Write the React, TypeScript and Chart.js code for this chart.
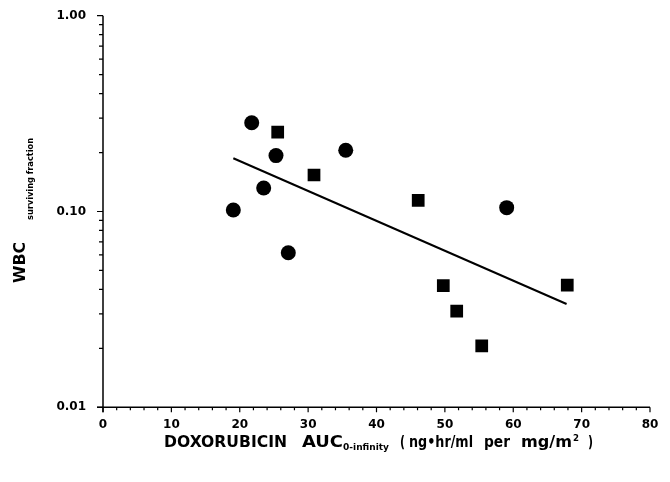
import { useEffect, useRef } from "react";
import { Chart, registerables } from "chart.js";

Chart.register(...registerables);

// Circles (one group of patients)
const circleX = [19.06, 21.75, 23.5, 25.3, 27.1, 35.5, 59.04];
const circleY = [0.1018, 0.284, 0.1318, 0.193, 0.0616, 0.2054, 0.1046];
// Squares (second group)
const squareX = [25.55, 30.86, 46.1, 49.77, 51.73, 55.39, 67.9];
const squareY = [0.254, 0.1536, 0.114, 0.0418, 0.031, 0.0206, 0.0421];
// Regression line end points
const fitX = [19.06, 67.8];
const fitY = [0.187, 0.0337];

const xMajorTicks = [0, 10, 20, 30, 40, 50, 60, 70, 80];
const xMajorLabels = ["0", "10", "20", "30", "40", "50", "60", "70", "80"];
const xMinorStep = 2;
const yMajorTicks = [0.01, 0.1, 1];
const yMajorLabels = ["0.01", "0.10", "1.00"];

const FONT = "'DejaVu Sans', 'Liberation Sans', sans-serif";

function fitText(ctx: CanvasRenderingContext2D, text: string, x: number, y: number, w: number) {
  const m = ctx.measureText(text).width || 1;
  ctx.save();
  ctx.translate(x, y);
  ctx.scale(w / m, 1);
  ctx.fillText(text, 0, 0);
  ctx.restore();
}

const axesPlugin = {
  id: "paperAxes",
  beforeDatasetsDraw(chart: any) {
    const ctx: CanvasRenderingContext2D = chart.ctx;
    const xs = chart.scales.x;
    const ys = chart.scales.y;
    const area = chart.chartArea;
    ctx.save();
    ctx.strokeStyle = "#000";
    ctx.fillStyle = "#000";
    ctx.lineWidth = 1.5;
    // axis lines
    ctx.beginPath();
    ctx.moveTo(area.left, area.top);
    ctx.lineTo(area.left, area.bottom + 5);
    ctx.moveTo(area.left - 6, area.bottom);
    ctx.lineTo(area.right, area.bottom);
    ctx.stroke();

    // x ticks
    ctx.lineWidth = 1.2;
    ctx.beginPath();
    for (let v = 0; v <= 80; v += xMinorStep) {
      const px = xs.getPixelForValue(v);
      const major = xMajorTicks.includes(v);
      ctx.moveTo(px, area.bottom);
      ctx.lineTo(px, area.bottom + (major ? 5 : 3));
    }
    // y ticks
    for (let d = 0; d < yMajorTicks.length; d++) {
      const base = yMajorTicks[d];
      const py = ys.getPixelForValue(base);
      ctx.moveTo(area.left, py);
      ctx.lineTo(area.left - 6, py);
      if (d < yMajorTicks.length - 1) {
        for (let k = 2; k <= 9; k++) {
          const pm = ys.getPixelForValue(base * k);
          ctx.moveTo(area.left, pm);
          ctx.lineTo(area.left - 4, pm);
        }
      }
    }
    ctx.stroke();

    // tick labels
    ctx.font = `bold 12px ${FONT}`;
    ctx.textAlign = "center";
    ctx.textBaseline = "alphabetic";
    xMajorTicks.forEach((v, i) => {
      ctx.fillText(xMajorLabels[i], xs.getPixelForValue(v), 427.5);
    });
    ctx.textAlign = "right";
    ctx.textBaseline = "middle";
    yMajorTicks.forEach((v, i) => {
      ctx.fillText(yMajorLabels[i], 86, ys.getPixelForValue(v));
    });

    // x title
    ctx.textAlign = "left";
    ctx.textBaseline = "alphabetic";
    ctx.font = `bold 15px ${FONT}`;
    fitText(ctx, "DOXORUBICIN", 164, 447, 123);
    fitText(ctx, "AUC", 302, 447, 41);
    fitText(ctx, "(", 400, 447, 5);
    fitText(ctx, "ng\u2022hr/ml", 409, 447, 64);
    fitText(ctx, "per", 484, 447, 26);
    fitText(ctx, "mg/m", 521, 447, 51);
    fitText(ctx, ")", 588, 447, 5);
    ctx.font = `bold 8px ${FONT}`;
    fitText(ctx, "0-infinity", 343, 450, 46);
    ctx.font = `bold 9px ${FONT}`;
    fitText(ctx, "2", 573, 441, 6);

    // y title (rotated)
    ctx.save();
    ctx.translate(25, 283);
    ctx.rotate(-Math.PI / 2);
    ctx.font = `bold 15px ${FONT}`;
    fitText(ctx, "WBC", 0, 0, 41);
    ctx.restore();
    ctx.save();
    ctx.translate(33, 220);
    ctx.rotate(-Math.PI / 2);
    ctx.font = `bold 8px ${FONT}`;
    fitText(ctx, "surviving fraction", 0, 0, 82);
    ctx.restore();

    ctx.restore();
  },
};

export default function App() {
  const ref = useRef<HTMLCanvasElement | null>(null);
  useEffect(() => {
    if (!ref.current) return;
    const chart = new Chart(ref.current, {
      type: "scatter",
      data: {
        datasets: [
          {
            type: "line",
            label: "fit",
            data: fitX.map((x, i) => ({ x, y: fitY[i] })),
            borderColor: "#000",
            borderWidth: 2,
            pointRadius: 0,
            fill: false,
          },
          {
            label: "circles",
            data: circleX.map((x, i) => ({ x, y: circleY[i] })),
            pointStyle: "circle",
            pointRadius: 7.5,
            backgroundColor: "#000",
            borderColor: "#000",
            borderWidth: 0,
          },
          {
            label: "squares",
            data: squareX.map((x, i) => ({ x, y: squareY[i] })),
            pointStyle: "rect",
            pointRadius: 9,
            backgroundColor: "#000",
            borderColor: "#000",
            borderWidth: 0,
          },
        ] as any,
      },
      options: {
        animation: false,
        responsive: false,
        devicePixelRatio: 1,
        layout: { padding: { left: 103, right: 20, top: 15.7, bottom: 74.7 } },
        plugins: { legend: { display: false }, tooltip: { enabled: false } },
        scales: {
          x: {
            type: "linear",
            min: 0,
            max: 80,
            grid: { display: false, drawTicks: false, tickLength: 0 },
            border: { display: false },
            ticks: { display: false },
          },
          y: {
            type: "logarithmic",
            min: 0.01,
            max: 1,
            grid: { display: false, drawTicks: false, tickLength: 0 },
            border: { display: false },
            ticks: { display: false },
          },
        },
      },
      plugins: [axesPlugin],
    });
    return () => chart.destroy();
  }, []);
  return (
    <div style={{ position: "absolute", left: 0, top: 0, width: 670, height: 482, background: "#fff" }}>
      <canvas ref={ref} width={670} height={482} />
    </div>
  );
}
